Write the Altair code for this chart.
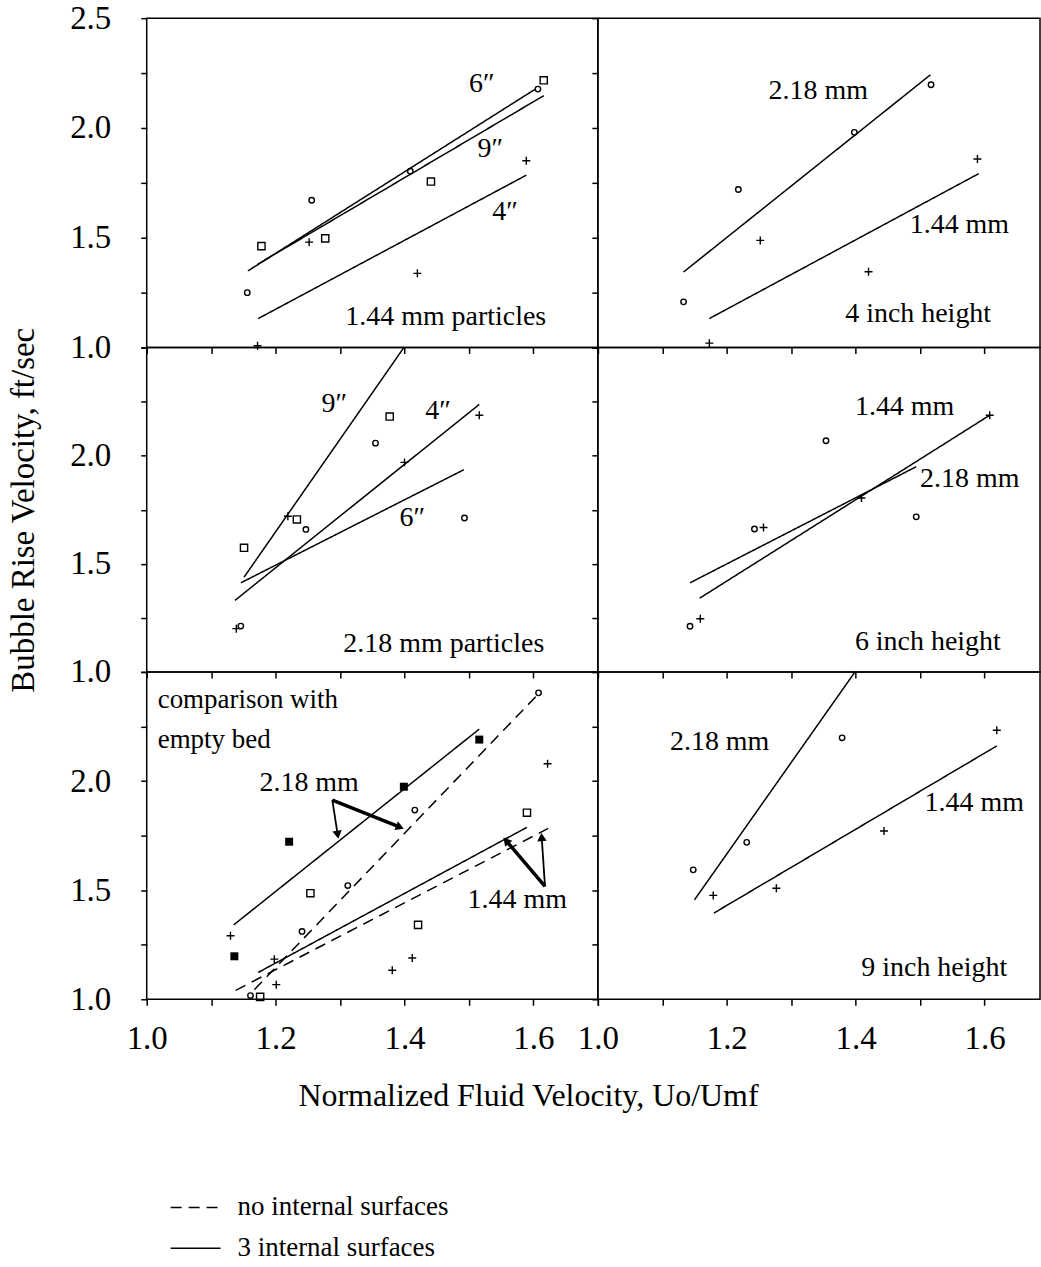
import math
import altair as alt
import pandas as pd

FONT = "Liberation Serif"

# ---------------- axes ----------------
x_ticks = [1.0, 1.1, 1.2, 1.3, 1.4, 1.5, 1.6, 1.7]
x_ticks_right = [1.0, 1.1, 1.2, 1.3, 1.4, 1.5, 1.6]
x_labelled = [1.0, 1.2, 1.4, 1.6]
y_ticks = [1.0, 1.25, 1.5, 1.75, 2.0, 2.25, 2.5]
y_labelled = [1.0, 1.5, 2.0]
y_labelled_top = [1.0, 1.5, 2.0, 2.5]

x_title = "Normalized Fluid Velocity, Uo/Umf"
y_title = "Bubble Rise Velocity, ft/sec"
surfaces = ["no internal surfaces", "3 internal surfaces"]

# ---------------- 1.44 mm particles (three bed heights) ----------------
a_4in_x = [1.172, 1.252, 1.420, 1.589]
a_4in_y = [1.008, 1.480, 1.338, 1.851]
a_6in_x = [1.156, 1.256, 1.409, 1.607]
a_6in_y = [1.250, 1.671, 1.803, 2.177]
a_9in_x = [1.178, 1.277, 1.441, 1.616]
a_9in_y = [1.462, 1.497, 1.756, 2.217]
a_fit_4in = ([1.173, 1.589], [1.132, 1.785])
a_fit_6in = ([1.157, 1.603], [1.349, 2.177])
a_fit_9in = ([1.172, 1.616], [1.379, 2.147])

# ---------------- 4 inch height ----------------
b_218_x = [1.133, 1.218, 1.398, 1.517]
b_218_y = [1.208, 1.720, 1.980, 2.197]
b_144_x = [1.173, 1.252, 1.420, 1.589]
b_144_y = [1.020, 1.488, 1.345, 1.859]
b_fit_218 = ([1.133, 1.516], [1.344, 2.242])
b_fit_144 = ([1.173, 1.591], [1.132, 1.792])

# ---------------- 2.18 mm particles (three bed heights) ----------------
c_4in_x = [1.139, 1.219, 1.400, 1.516]
c_4in_y = [1.200, 1.720, 1.969, 2.187]
c_6in_x = [1.146, 1.247, 1.355, 1.493]
c_6in_y = [1.212, 1.659, 2.058, 1.712]
c_9in_x = [1.151, 1.233, 1.377]
c_9in_y = [1.574, 1.705, 2.181]
c_fit_9in = ([1.151, 1.399], [1.438, 2.500])
c_fit_4in = ([1.137, 1.516], [1.331, 2.237])
c_fit_6in = ([1.146, 1.492], [1.412, 1.935])

# ---------------- 6 inch height ----------------
d_218_x = [1.143, 1.243, 1.354, 1.494]
d_218_y = [1.211, 1.661, 2.069, 1.717]
d_144_x = [1.159, 1.257, 1.409, 1.608]
d_144_y = [1.246, 1.668, 1.804, 2.187]
d_fit_144 = ([1.158, 1.608], [1.341, 2.187])
d_fit_218 = ([1.143, 1.494], [1.412, 1.949])

# ---------------- comparison with empty bed ----------------
e_218_int_x = [1.136, 1.221, 1.399, 1.516]
e_218_int_y = [1.197, 1.722, 1.974, 2.190]
e_218_empty_x = [1.161, 1.241, 1.312, 1.416, 1.608]
e_218_empty_y = [1.017, 1.311, 1.521, 1.867, 2.404]
e_144_empty_x = [1.176, 1.254, 1.421, 1.590]
e_144_empty_y = [1.011, 1.486, 1.341, 1.855]
e_144_int_x = [1.130, 1.198, 1.201, 1.381, 1.412, 1.622]
e_144_int_y = [1.291, 1.184, 1.067, 1.133, 1.189, 2.079]
e_fit_218_int = ([1.135, 1.516], [1.341, 2.238])
e_fit_218_empty = ([1.167, 1.608], [1.044, 2.400])
e_fit_144_int = ([1.173, 1.590], [1.123, 1.788])
e_fit_144_empty = ([1.138, 1.623], [1.041, 1.783])
# pointers from the size labels to the fitted lines (from, to)
e_arrows_thick = [((1.288, 1.913), (1.391, 1.791)), ((1.618, 1.517), (1.559, 1.722))]
e_arrows_thin = [((1.288, 1.913), (1.296, 1.760)), ((1.618, 1.517), (1.613, 1.737))]

# ---------------- 9 inch height ----------------
f_218_x = [1.148, 1.231, 1.379]
f_218_y = [1.593, 1.719, 2.198]
f_144_x = [1.179, 1.277, 1.444, 1.619]
f_144_y = [1.476, 1.509, 1.771, 2.233]
f_fit_218 = ([1.150, 1.399], [1.456, 2.500])
f_fit_144 = ([1.180, 1.619], [1.395, 2.161])

# ---------------- layout ----------------
LW, RW = 452, 443
HEIGHTS = [330, 325, 328]
X_MAX_L = 1.7
X_MAX_R = 1.0 + 0.7 * RW / LW

PLUS = "M-1,0L1,0M0,-1L0,1"
MARKERS = {
    "plus": dict(shape=PLUS, size=64, filled=False, strokeWidth=1.4),
    "circle": dict(shape="circle", size=30, filled=False, strokeWidth=1.4),
    "square": dict(shape="square", size=52, filled=False, strokeWidth=1.4),
    "fsquare": dict(shape="square", size=64, filled=True, strokeWidth=1),
}

LEGEND = alt.Legend(
    title=None, orient="none", legendX=23, legendY=1178, padding=0,
    symbolType="stroke", symbolSize=2500, symbolStrokeWidth=1.5,
    symbolStrokeColor="black", labelFont=FONT, labelFontSize=27,
    labelColor="black", labelOffset=16, labelLimit=500, clipHeight=27,
    rowPadding=13, direction="vertical",
)

TICK = dict(tickSize=6, tickWidth=1.5, tickColor="black", domain=False, grid=False,
            labelFont=FONT, labelColor="black", labelOverlap=False, labelFlush=False,
            labelBound=False)


def x_axis(values, labelled=False, title=None):
    if not labelled:
        return alt.Axis(values=values, labels=False, title=None, **TICK)
    kw = dict(values=values, title=None, labelFontSize=33, labelPadding=17,
              labelExpr=f"indexof({x_labelled}, datum.value) >= 0 ? format(datum.value, '.1f') : ''",
              **TICK)
    if title:
        kw.update(title=title, titleFont=FONT, titleFontSize=32, titleFontWeight="normal",
                  titleColor="black", titleX=382, titleY=96, titleAlign="center",
                  titleBaseline="middle")
    return alt.Axis(**kw)


def y_axis(labelled=None, title=None, height=330):
    if labelled is None:
        return alt.Axis(values=y_ticks, labels=False, title=None, **TICK)
    kw = dict(values=y_ticks, title=None, labelFontSize=33, labelPadding=30,
              labelExpr=f"indexof({labelled}, datum.value) >= 0 ? format(datum.value, '.1f') : ''",
              **TICK)
    if title:
        kw.update(title=title, titleFont=FONT, titleFontSize=33, titleFontWeight="normal",
                  titleColor="black", titleX=-123, titleY=height / 2, titleAngle=270,
                  titleAlign="center", titleBaseline="middle")
    return alt.Axis(**kw)


def panel(width, height, xmax, xax, yax, pts, fits, notes, notes_left=(), arrows=None):
    xs = alt.Scale(domain=[1.0, xmax], nice=False, zero=False)
    ys = alt.Scale(domain=[1.0, 2.5], nice=False, zero=False)

    def enc(**extra):
        return dict(x=alt.X("x:Q", scale=xs, axis=xax),
                    y=alt.Y("y:Q", scale=ys, axis=yax), **extra)

    rows = []
    for i, (surf, (fx, fy)) in enumerate(fits):
        for x, y in zip(fx, fy):
            rows.append({"x": x, "y": y, "fit": i, "surf": surf})
    layers = [
        alt.Chart(pd.DataFrame(rows)).mark_line(color="black", strokeWidth=1.5).encode(
            **enc(detail="fit:N",
                  strokeDash=alt.StrokeDash("surf:N", scale=alt.Scale(domain=surfaces,
                                                                      range=[[11, 7], [1, 0]]),
                                            legend=LEGEND)))
    ]
    for marker, px, py in pts:
        df = pd.DataFrame({"x": px, "y": py})
        layers.append(alt.Chart(df).mark_point(color="black", opacity=1,
                                               **MARKERS[marker]).encode(**enc()))
    if arrows:
        sx = width / (xmax - 1.0)
        sy = height / 1.5
        heads = []
        for width_px, segs in arrows:
            srows = []
            for k, ((x0, y0), (x1, y1)) in enumerate(segs):
                srows += [{"x": x0, "y": y0, "seg": k}, {"x": x1, "y": y1, "seg": k}]
                ang = math.degrees(math.atan2((x1 - x0) * sx, (y1 - y0) * sy)) % 360
                heads.append({"x": x1, "y": y1, "ang": ang})
            layers.append(alt.Chart(pd.DataFrame(srows)).mark_line(
                color="black", strokeWidth=width_px).encode(**enc(detail="seg:N")))
        layers.append(alt.Chart(pd.DataFrame(heads)).mark_point(
            shape="triangle", filled=True, color="black", opacity=1, size=90).encode(
            **enc(angle=alt.Angle("ang:Q", scale=None))))
    tdf = pd.DataFrame(notes, columns=["x", "y", "t"])
    layers.append(alt.Chart(tdf).mark_text(font=FONT, fontSize=28, color="black",
                                           align="center", baseline="middle").encode(
        **enc(text="t:N")))
    if notes_left:
        ldf = pd.DataFrame(notes_left, columns=["x", "y", "t"])
        layers.append(alt.Chart(ldf).mark_text(font=FONT, fontSize=27, color="black",
                                               align="left", baseline="middle").encode(
            **enc(text="t:N")))
    return alt.layer(*layers).properties(width=width, height=height)


SOLID, DASH = surfaces[1], surfaces[0]

p_a = panel(LW, HEIGHTS[0], X_MAX_L, x_axis(x_ticks), y_axis(y_labelled_top),
            [("plus", a_4in_x, a_4in_y), ("circle", a_6in_x, a_6in_y),
             ("square", a_9in_x, a_9in_y)],
            [(SOLID, a_fit_4in), (SOLID, a_fit_6in), (SOLID, a_fit_9in)],
            [(1.520, 2.198, "6″"), (1.533, 1.905, "9″"), (1.556, 1.617, "4″"),
             (1.464, 1.141, "1.44 mm particles")])

p_b = panel(RW, HEIGHTS[0], X_MAX_R, x_axis(x_ticks_right), y_axis(),
            [("circle", b_218_x, b_218_y), ("plus", b_144_x, b_144_y)],
            [(SOLID, b_fit_218), (SOLID, b_fit_144)],
            [(1.342, 2.167, "2.18 mm"), (1.561, 1.560, "1.44 mm"),
             (1.497, 1.151, "4 inch height")])

p_c = panel(LW, HEIGHTS[1], X_MAX_L, x_axis(x_ticks),
            y_axis(y_labelled, y_title, HEIGHTS[1]),
            [("plus", c_4in_x, c_4in_y), ("circle", c_6in_x, c_6in_y),
             ("square", c_9in_x, c_9in_y)],
            [(SOLID, c_fit_9in), (SOLID, c_fit_4in), (SOLID, c_fit_6in)],
            [(1.291, 2.238, "9″"), (1.452, 2.208, "4″"), (1.412, 1.711, "6″"),
             (1.461, 1.131, "2.18 mm particles")])

p_d = panel(RW, HEIGHTS[1], X_MAX_R, x_axis(x_ticks_right), y_axis(),
            [("circle", d_218_x, d_218_y), ("plus", d_144_x, d_144_y)],
            [(SOLID, d_fit_144), (SOLID, d_fit_218)],
            [(1.476, 2.223, "1.44 mm"), (1.577, 1.892, "2.18 mm"),
             (1.512, 1.138, "6 inch height")])

p_e = panel(LW, HEIGHTS[2], X_MAX_L, x_axis(x_ticks, True, x_title), y_axis(y_labelled),
            [("fsquare", e_218_int_x, e_218_int_y), ("circle", e_218_empty_x, e_218_empty_y),
             ("square", e_144_empty_x, e_144_empty_y), ("plus", e_144_int_x, e_144_int_y)],
            [(SOLID, e_fit_218_int), (DASH, e_fit_218_empty),
             (SOLID, e_fit_144_int), (DASH, e_fit_144_empty)],
            [(1.252, 1.989, "2.18 mm"), (1.575, 1.456, "1.44 mm")],
            notes_left=[(1.017, 2.370, "comparison with"), (1.017, 2.187, "empty bed")],
            arrows=[(3.5, e_arrows_thick), (1.8, e_arrows_thin)])

p_f = panel(RW, HEIGHTS[2], X_MAX_R, x_axis(x_ticks_right, True), y_axis(),
            [("circle", f_218_x, f_218_y), ("plus", f_144_x, f_144_y)],
            [(SOLID, f_fit_218), (SOLID, f_fit_144)],
            [(1.189, 2.180, "2.18 mm"), (1.584, 1.898, "1.44 mm"),
             (1.522, 1.143, "9 inch height")])

chart = (
    alt.concat(p_a, p_b, p_c, p_d, p_e, p_f, columns=2, spacing=0, bounds="flush")
    .resolve_scale(strokeDash="shared")
    .properties(padding={"left": 7, "top": 0, "right": 0, "bottom": 0})
    .configure(font=FONT)
    .configure_view(stroke="black", strokeWidth=1.5)
)

chart.save("out.html", embed_options={"renderer": "svg", "actions": False})
